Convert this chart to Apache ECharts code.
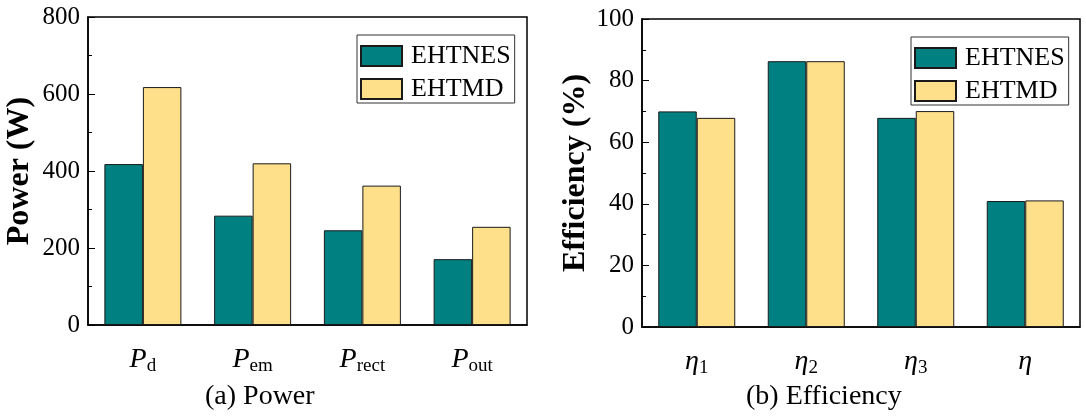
<!DOCTYPE html>
<html>
<head>
<meta charset="utf-8">
<script src="https://cdn.jsdelivr.net/npm/echarts@6/dist/echarts.min.js"></script>
<style>
  html, body { margin: 0; padding: 0; background: #fff; }
  #chart { width: 1086px; height: 416px; }
</style>
</head>
<body>
<div id="chart"></div>
<script>
// Power breakdown (W)
const powerCategories = ['Pd', 'Pem', 'Prect', 'Pout'];
const powerEHTNES = [418, 284, 246, 171];
const powerEHTMD = [618, 420, 362, 255];

// Efficiency breakdown (%)
const effCategories = ['η1', 'η2', 'η3', 'η'];
const effEHTNES = [70.0, 86.3, 67.9, 40.9];
const effEHTMD = [67.9, 86.3, 70.1, 41.1];

const powerTicks = { min: 0, max: 800, interval: 200 };
const effTicks = { min: 0, max: 100, interval: 20 };

const seriesNames = ['EHTNES', 'EHTMD'];
const colors = ['#008080', '#fee08b'];

const FONT = '"Liberation Serif", "Times New Roman", serif';

const chart = echarts.init(document.getElementById('chart'), null, { renderer: 'canvas' });

// first character is the italic symbol, the rest is a subscript
function catLabel(v) {
  const sym = v.charAt(0);
  const sub = v.slice(1);
  return sub ? '{p|' + sym + '}{s|' + sub + '}' : '{p|' + sym + '}';
}

const richCat = {
  p: { fontFamily: FONT, fontStyle: 'italic', fontSize: 28, lineHeight: 28, verticalAlign: 'bottom', color: '#000' },
  s: { fontFamily: FONT, fontSize: 19, lineHeight: 19, verticalAlign: 'bottom', color: '#000', padding: [0, 0, -2, 0] }
};

function xAxisFor(gridIndex, data) {
  return {
    type: 'category',
    gridIndex: gridIndex,
    data: data,
    axisLine: { lineStyle: { color: '#000', width: 1.5 } },
    axisTick: { inside: true, length: 3, lineStyle: { color: '#000', width: 1 } },
    axisLabel: { margin: 21, formatter: catLabel, rich: richCat }
  };
}

function yAxisFor(gridIndex, ticks, name, gap) {
  return {
    type: 'value',
    gridIndex: gridIndex,
    min: ticks.min,
    max: ticks.max,
    interval: ticks.interval,
    name: name,
    nameLocation: 'middle',
    nameGap: gap,
    nameTextStyle: { fontFamily: FONT, fontWeight: 'bold', fontSize: 32, color: '#000' },
    axisLine: { show: true, lineStyle: { color: '#000', width: 1.5 } },
    axisTick: { show: true, inside: true, length: 7, lineStyle: { color: '#000', width: 1 } },
    minorTick: { show: true, splitNumber: 2, length: 4, lineStyle: { color: '#000', width: 1 } },
    splitLine: { show: false },
    axisLabel: { fontFamily: FONT, fontSize: 25, color: '#000', margin: 8 }
  };
}

function barSeries(name, idx, data, axisIdx) {
  return {
    name: name,
    type: 'bar',
    xAxisIndex: axisIdx,
    yAxisIndex: axisIdx,
    data: data,
    barWidth: 38.5,
    barGap: '0%',
    itemStyle: { color: colors[idx], borderColor: '#1a1a1a', borderWidth: 1 },
    emphasis: { disabled: true }
  };
}

function legendAt(left, top) {
  return {
    data: seriesNames,
    orient: 'vertical',
    left: left,
    top: top,
    itemWidth: 41,
    itemHeight: 20,
    itemGap: 7,
    padding: [8, 4, 1, 3],
    borderColor: '#333',
    borderWidth: 1,
    icon: 'rect',
    selectedMode: false,
    textStyle: { fontFamily: FONT, fontSize: 26, color: '#000', padding: [0, 0, 0, 4] }
  };
}

const option = {
  animation: false,
  backgroundColor: '#fff',
  grid: [
    { left: 88, top: 17, width: 439, height: 308, show: true, borderColor: '#000', borderWidth: 1.5, backgroundColor: 'transparent' },
    { left: 642, top: 19, width: 438, height: 308, show: true, borderColor: '#000', borderWidth: 1.5, backgroundColor: 'transparent' }
  ],
  legend: [legendAt(357, 35), legendAt(911, 37)],
  xAxis: [xAxisFor(0, powerCategories), xAxisFor(1, effCategories)],
  yAxis: [
    yAxisFor(0, powerTicks, 'Power (W)', 52),
    yAxisFor(1, effTicks, 'Efficiency (%)', 50)
  ],
  series: [
    barSeries(seriesNames[0], 0, powerEHTNES, 0),
    barSeries(seriesNames[1], 1, powerEHTMD, 0),
    barSeries(seriesNames[0], 0, effEHTNES, 1),
    barSeries(seriesNames[1], 1, effEHTMD, 1)
  ],
  graphic: [
    { type: 'text', left: 205, top: 383, style: { text: '(a) Power', fontFamily: FONT, fontSize: 28, fill: '#000' } },
    { type: 'text', left: 746, top: 383, style: { text: '(b) Efficiency', fontFamily: FONT, fontSize: 28, fill: '#000' } }
  ]
};

chart.setOption(option);
</script>
</body>
</html>
